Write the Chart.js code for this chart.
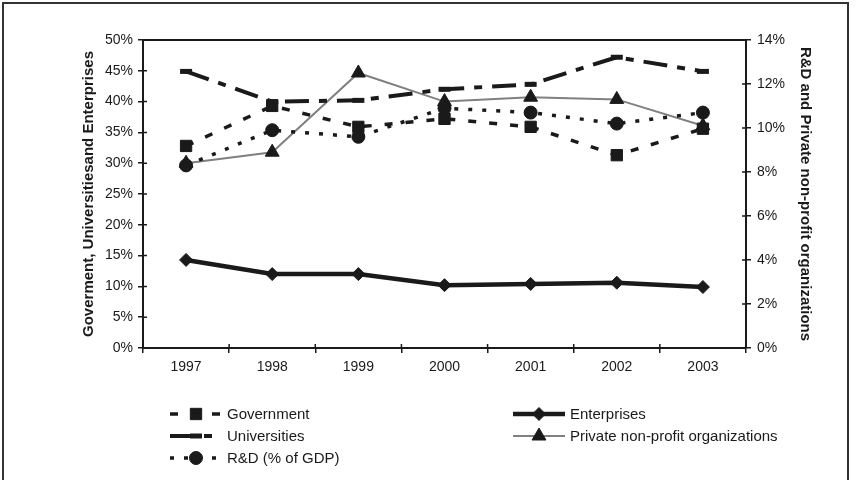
<!DOCTYPE html>
<html>
<head>
<meta charset="utf-8">
<title>R&D by sector</title>
<script src="https://cdn.jsdelivr.net/npm/chart.js@4.4.1/dist/chart.umd.min.js"></script>
<style>
body{margin:0;background:#fff;}
#wrap{position:relative;width:860px;height:480px;overflow:hidden;background:#fff;}
#frame{position:absolute;left:2px;top:2px;width:843px;height:520px;border:2px solid #333;}
canvas{position:absolute;left:0;top:0;}
</style>
</head>
<body>
<div id="wrap">
<div id="frame"></div>
<canvas id="chart" width="860" height="480"></canvas>
</div>
<script>
// values (percent)
let years=["1997","1998","1999","2000","2001","2002","2003"];
let government=[32.8,39.3,35.9,37.2,35.9,31.3,35.6];
let universities=[44.9,40.0,40.2,42.0,42.8,47.2,44.9];
let enterprises=[14.3,12.0,12.0,10.2,10.4,10.6,9.9];
let rdGdp=[8.3,9.9,9.6,10.9,10.7,10.2,10.7];
let privateNonProfit=[8.4,8.9,12.5,11.2,11.4,11.3,10.1];

let leftTitle="Goverment, Universitiesand Enterprises";
let rightTitle="R&D and Private non-profit organizations";

let ink="#1a1a1a";
let fontFam="'Liberation Sans', Arial, sans-serif";

// legend layout: [dataset index, x, y]
let legendSlots=[[0,170,414],[1,170,436],[2,170,458],[3,513,414],[4,513,436]];

function drawMarker(ctx,ds,x,y){
ctx.save();
ctx.setLineDash([]);
ctx.fillStyle=ds.pointBackgroundColor;
ctx.strokeStyle=ds.pointBorderColor;
ctx.lineWidth=ds.pointBorderWidth;
Chart.helpers.drawPoint(ctx,{pointStyle:ds.pointStyle,radius:ds.pointRadius,borderWidth:ds.pointBorderWidth,rotation:0},x,y);
ctx.restore();
}

let extras={
id:"extras",
afterDraw(chart){
let ctx=chart.ctx;
let a=chart.chartArea;
ctx.save();
ctx.strokeStyle=ink;
ctx.lineWidth=2;
// top border of plot area
ctx.beginPath();
ctx.moveTo(a.left,a.top);
ctx.lineTo(a.right,a.top);
ctx.stroke();
// inner halves of the crossing tick marks
ctx.lineWidth=1.5;
let yl=chart.scales.y, yr=chart.scales.y1;
ctx.beginPath();
yl.ticks.forEach((t,i)=>{let p=yl.getPixelForTick(i);ctx.moveTo(a.left,p);ctx.lineTo(a.left+4,p);});
yr.ticks.forEach((t,i)=>{let p=yr.getPixelForTick(i);ctx.moveTo(a.right-4,p);ctx.lineTo(a.right,p);});
let n=years.length;
for(let i=0;i<=n;i++){
let p=a.left+i*(a.width/n);
ctx.moveTo(p,a.bottom);ctx.lineTo(p,a.bottom-4);
}
ctx.stroke();
ctx.restore();

// legend
let sets=chart.data.datasets;
legendSlots.forEach(s=>{
let ds=sets[s[0]];
let x=s[1],y=s[2];
ctx.save();
ctx.strokeStyle=ds.borderColor;
ctx.lineWidth=ds.borderWidth;
ctx.setLineDash(ds.borderDash||[]);
ctx.beginPath();
ctx.moveTo(x,y);
ctx.lineTo(x+52,y);
ctx.stroke();
ctx.restore();
drawMarker(ctx,ds,x+26,y);
ctx.save();
ctx.fillStyle=ink;
ctx.font="15px "+fontFam;
ctx.textBaseline="middle";
ctx.fillText(ds.label,x+57,y+1);
ctx.restore();
});
}
};

let ctx=document.getElementById("chart");

let chart=new Chart(ctx,{
type:"line",
data:{
labels:years,
datasets:[
{label:"Government",data:government,yAxisID:"y",borderColor:ink,borderWidth:3.5,borderDash:[8,13],
pointStyle:"rect",pointRadius:8,pointBackgroundColor:ink,pointBorderColor:ink,pointBorderWidth:1},
{label:"Universities",data:universities,yAxisID:"y",borderColor:ink,borderWidth:4,borderDash:[24,10,8,10],
pointStyle:"line",pointRadius:6,pointBackgroundColor:ink,pointBorderColor:ink,pointBorderWidth:5},
{label:"R&D (% of GDP)",data:rdGdp,yAxisID:"y1",borderColor:ink,borderWidth:3.5,borderDash:[4,10],
pointStyle:"circle",pointRadius:6.5,pointBackgroundColor:ink,pointBorderColor:ink,pointBorderWidth:1},
{label:"Enterprises",data:enterprises,yAxisID:"y",borderColor:ink,borderWidth:4.5,borderDash:[],
pointStyle:"rectRot",pointRadius:6.5,pointBackgroundColor:ink,pointBorderColor:ink,pointBorderWidth:1},
{label:"Private non-profit organizations",data:privateNonProfit,yAxisID:"y1",borderColor:"#808080",borderWidth:2,borderDash:[],
pointStyle:"triangle",pointRadius:8,pointBackgroundColor:ink,pointBorderColor:ink,pointBorderWidth:1}
]
},
options:{
responsive:false,
devicePixelRatio:1,
animation:false,
layout:{padding:{left:80,right:46,top:40,bottom:0}},
elements:{line:{tension:0,fill:false}},
plugins:{legend:{display:false},tooltip:{enabled:false}},
scales:{
x:{
type:"category",
offset:true,
grid:{display:true,offset:true,drawOnChartArea:false,drawTicks:true,tickLength:5,color:ink,lineWidth:1.5},
border:{display:true,color:ink,width:2},
ticks:{padding:6,color:ink,font:{family:fontFam,size:14}},
afterFit(s){s.height=132;}
},
y:{
position:"left",
min:0,max:50,
ticks:{stepSize:5,padding:5,color:ink,font:{family:fontFam,size:14},callback:v=>v+"%"},
grid:{drawOnChartArea:false,tickLength:5,color:ink,lineWidth:1.5},
border:{display:true,color:ink,width:2},
title:{display:true,text:leftTitle,color:ink,padding:0,font:{family:fontFam,size:15,weight:"bold"}},
afterFit(s){s.width=63;}
},
y1:{
position:"right",
min:0,max:14,
ticks:{stepSize:2,padding:6,color:ink,font:{family:fontFam,size:14},callback:v=>v+"%"},
grid:{drawOnChartArea:false,tickLength:5,color:ink,lineWidth:1.5},
border:{display:true,color:ink,width:2},
title:{display:true,text:rightTitle,color:ink,padding:0,font:{family:fontFam,size:15,weight:"bold"}},
afterFit(s){s.width=68;}
}
}
},
plugins:[extras]
});
</script>
</body>
</html>
